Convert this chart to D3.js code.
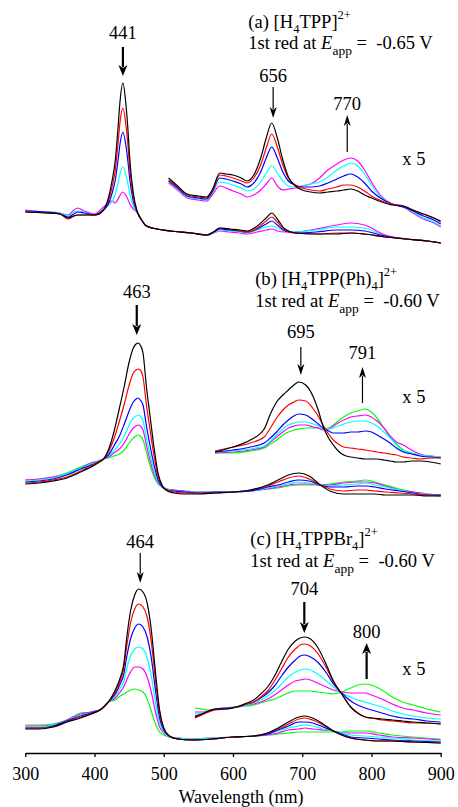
<!DOCTYPE html>
<html><head><meta charset="utf-8">
<script src="https://cdn.jsdelivr.net/npm/d3@7"></script>
<style>
body{margin:0;background:#fff}
svg{display:block}
text{font-family:"Liberation Serif","Times New Roman",Times,"Nimbus Roman","DejaVu Serif",serif;fill:#000}
</style>
</head><body><svg id="chart" width="458" height="807"></svg>
<script>
// ---------- tick labels ----------
const xTicks = [300,400,500,600,700,800,900];
const xLabel = "Wavelength (nm)";

// ---------- colours (series order: black, red, blue, cyan, magenta, green) ----------
const seriesColors = ["#000000","#ff0000","#0000ff","#00ffff","#ff00ff","#00ff00"];

// ---------- panel (a) [H4TPP]2+ : main spectra ----------
const waveA = [300,330,350,362,370,376,385,400,413,420,425,430,434,437,441,445,448,451,456,461,468,475,490,510,540,562,572,581,595,610,620,635,648,656,664,675,690,720,750,770,790,820,850,880,900];
const aBlack   = [.38,.37,.36,.32,.34,.35,.35,.35,.40,.52,.68,.90,1.23,1.50,1.67,1.48,1.23,.90,.57,.40,.30,.24,.21,.19,.17,.15,.18,.22,.21,.20,.19,.24,.32,.37,.31,.21,.17,.16,.16,.17,.16,.13,.11,.09,.07];
const aRed     = [.38,.37,.36,.31,.34,.35,.35,.35,.40,.49,.62,.80,1.07,1.29,1.42,1.27,1.07,.80,.53,.39,.30,.24,.21,.19,.17,.15,.18,.22,.21,.19,.18,.22,.29,.33,.28,.20,.17,.16,.17,.17,.16,.13,.11,.09,.07];
const aBlue    = [.39,.38,.36,.33,.36,.38,.37,.35,.40,.46,.56,.70,.90,1.07,1.18,1.06,.90,.70,.49,.39,.30,.24,.21,.19,.17,.15,.18,.21,.20,.19,.18,.21,.26,.29,.25,.19,.17,.18,.20,.20,.19,.14,.11,.09,.07];
const aCyan    = [.39,.38,.37,.34,.38,.39,.38,.35,.41,.45,.48,.56,.67,.77,.83,.76,.67,.56,.44,.38,.30,.24,.21,.19,.17,.15,.17,.20,.19,.18,.17,.20,.23,.24,.22,.19,.18,.20,.23,.23,.22,.14,.11,.09,.07];
const aMagenta = [.40,.38,.37,.35,.40,.42,.39,.36,.43,.47,.49,.47,.51,.55,.58,.55,.51,.46,.41,.38,.30,.24,.21,.19,.17,.15,.17,.19,.18,.17,.16,.18,.20,.21,.19,.18,.18,.21,.25,.27,.25,.15,.11,.09,.07];
// panel (a) x5 inset (displayed values)
const waveAInset = [507,520,534,550,562,570,581,590,600,612,620,630,640,648,656,664,672,680,690,700,712,725,737,750,760,770,780,790,800,815,830,846,860,875,890,900];
const aInBlack   = [.72,.64,.56,.54,.53,.60,.77,.76,.75,.72,.69,.75,.92,1.12,1.27,1.12,.90,.73,.64,.60,.58,.57,.58,.59,.60,.61,.59,.55,.52,.48,.45,.44,.40,.36,.32,.29];
const aInRed     = [.70,.63,.55,.53,.52,.59,.75,.74,.72,.69,.67,.72,.85,1.02,1.16,1.03,.85,.72,.65,.62,.60,.59,.61,.63,.65,.65,.63,.59,.54,.49,.46,.44,.40,.36,.32,.28];
const aInBlue    = [.69,.62,.54,.52,.51,.58,.72,.71,.69,.66,.63,.67,.78,.92,1.03,.92,.78,.69,.65,.63,.63,.64,.67,.71,.74,.76,.73,.67,.59,.51,.46,.43,.39,.34,.30,.26];
const aInCyan    = [.68,.61,.53,.51,.50,.57,.68,.67,.65,.62,.59,.61,.68,.77,.84,.77,.69,.64,.63,.64,.66,.68,.73,.80,.84,.87,.84,.76,.65,.52,.46,.43,.38,.32,.28,.24];
const aInMagenta = [.67,.60,.52,.50,.49,.55,.64,.62,.59,.56,.53,.55,.60,.66,.72,.64,.60,.61,.62,.64,.66,.72,.80,.86,.90,.92,.89,.80,.68,.53,.46,.43,.37,.31,.27,.23];

// ---------- panel (b) [H4TPP(Ph)4]2+ ----------
const waveB = [300,320,340,360,380,395,405,413,420,428,436,443,450,456,460,463,466,470,475,480,486,492,498,505,515,530,550,575,600,625,650,665,680,695,710,726,740,760,780,791,805,820,840,860,880,900];
const bBlack   = [.16,.17,.19,.22,.28,.33,.37,.41,.50,.68,.92,1.14,1.38,1.52,1.56,1.57,1.55,1.47,1.13,.85,.52,.26,.14,.09,.07,.06,.06,.07,.08,.10,.15,.20,.25,.27,.24,.15,.09,.06,.06,.06,.06,.05,.05,.05,.04,.04];
const bRed     = [.17,.18,.20,.23,.29,.34,.38,.41,.48,.61,.79,.96,1.15,1.27,1.30,1.31,1.30,1.23,.95,.71,.44,.23,.14,.10,.08,.07,.07,.07,.08,.10,.14,.18,.22,.24,.21,.15,.11,.09,.10,.10,.09,.08,.07,.06,.05,.04];
const bBlue    = [.18,.19,.21,.25,.31,.35,.38,.41,.45,.54,.64,.76,.89,.98,1.01,1.02,1.00,.95,.74,.55,.35,.20,.13,.10,.09,.08,.07,.08,.08,.09,.13,.15,.18,.20,.19,.15,.13,.13,.14,.14,.13,.11,.09,.07,.05,.05];
const bCyan    = [.19,.20,.22,.26,.32,.36,.39,.41,.44,.49,.56,.64,.75,.82,.84,.85,.84,.79,.62,.46,.29,.18,.13,.11,.09,.08,.08,.08,.08,.09,.12,.14,.16,.18,.17,.15,.14,.15,.16,.17,.15,.13,.10,.07,.06,.05];
const bMagenta = [.20,.21,.23,.26,.32,.37,.39,.41,.43,.47,.51,.57,.66,.72,.74,.75,.74,.70,.55,.40,.26,.17,.13,.11,.10,.09,.08,.08,.08,.09,.11,.13,.15,.16,.16,.15,.15,.17,.18,.18,.17,.14,.10,.08,.06,.05];
const bGreen   = [.20,.21,.23,.27,.33,.37,.39,.41,.42,.44,.46,.50,.57,.62,.64,.65,.64,.60,.48,.35,.23,.16,.13,.11,.10,.09,.08,.08,.08,.09,.11,.12,.14,.15,.15,.15,.16,.18,.19,.20,.18,.15,.11,.08,.06,.05];
const waveBInset = [574,600,625,645,654,663,672,680,688,695,705,716,723,730,738,745,752,760,770,780,791,800,808,818,827,836,846,858,870,885,900];
const bInBlack   = [.48,.53,.60,.71,.86,.98,1.05,1.10,1.15,1.18,1.15,1.03,.90,.74,.62,.55,.49,.45,.43,.42,.41,.41,.41,.40,.39,.38,.38,.39,.39,.38,.36];
const bInRed     = [.49,.53,.57,.63,.72,.82,.90,.95,.98,1.00,.99,.91,.84,.75,.66,.60,.56,.53,.52,.51,.50,.49,.48,.47,.46,.45,.43,.42,.41,.42,.42];
const bInBlue    = [.48,.50,.53,.57,.62,.68,.75,.80,.84,.86,.85,.80,.76,.72,.69,.67,.67,.67,.68,.68,.69,.68,.65,.61,.57,.52,.48,.46,.44,.43,.42];
const bInCyan    = [.48,.49,.51,.54,.59,.65,.71,.75,.77,.78,.78,.76,.74,.71,.71,.72,.74,.76,.78,.79,.79,.77,.74,.68,.62,.55,.49,.47,.45,.44,.43];
const bInMagenta = [.47,.48,.50,.53,.58,.63,.68,.72,.74,.75,.75,.73,.72,.70,.71,.74,.77,.80,.83,.84,.85,.83,.79,.72,.64,.58,.55,.50,.46,.44,.43];
const bInGreen   = [.47,.47,.49,.52,.56,.60,.65,.68,.70,.71,.72,.72,.72,.71,.72,.75,.79,.83,.87,.89,.91,.88,.82,.72,.63,.56,.50,.47,.45,.44,.43];

// ---------- panel (c) [H4TPPBr4]2+ ----------
const waveC = [300,320,340,360,380,395,410,420,430,437,442,447,452,458,464,470,476,482,488,494,500,508,520,540,570,600,630,650,665,680,695,704,715,730,745,757,770,790,810,830,860,900];
const cBlack   = [.21,.21,.23,.28,.32,.36,.41,.48,.60,.72,.85,1.15,1.39,1.55,1.61,1.58,1.47,1.20,.78,.40,.22,.14,.11,.10,.11,.13,.14,.17,.22,.28,.33,.34,.32,.26,.19,.15,.12,.10,.09,.09,.08,.07];
const cRed     = [.22,.22,.23,.28,.33,.36,.41,.48,.58,.69,.81,1.06,1.27,1.41,1.46,1.43,1.33,1.08,.70,.37,.21,.14,.11,.10,.11,.13,.14,.17,.21,.26,.31,.32,.30,.25,.19,.15,.12,.10,.09,.09,.08,.07];
const cBlue    = [.22,.22,.24,.29,.34,.37,.41,.48,.56,.66,.75,.95,1.11,1.22,1.26,1.23,1.13,.92,.60,.32,.20,.14,.11,.10,.11,.13,.14,.16,.20,.24,.28,.28,.27,.23,.19,.16,.13,.12,.11,.10,.09,.08];
const cCyan    = [.23,.23,.25,.29,.35,.37,.41,.48,.54,.62,.68,.83,.94,1.01,1.03,1.01,.92,.74,.48,.27,.18,.13,.12,.11,.12,.13,.14,.16,.19,.22,.24,.25,.24,.21,.19,.17,.15,.14,.13,.12,.10,.09];
const cMagenta = [.24,.24,.25,.30,.36,.38,.41,.48,.52,.58,.63,.71,.78,.83,.83,.81,.73,.58,.38,.23,.17,.13,.12,.11,.12,.13,.14,.15,.17,.20,.21,.22,.21,.20,.19,.17,.17,.17,.15,.13,.12,.10];
const cGreen   = [.25,.25,.26,.30,.37,.38,.41,.48,.50,.54,.56,.58,.60,.61,.60,.58,.51,.39,.26,.18,.15,.13,.12,.11,.12,.13,.14,.15,.16,.17,.18,.18,.18,.18,.18,.18,.19,.19,.17,.15,.13,.11];
const waveCInset = [545,555,565,575,590,605,620,630,640,650,660,670,680,690,697,704,712,722,735,745,757,770,780,791,800,815,830,845,860,880,900];
const cInBlack   = [.33,.36,.39,.41,.41,.43,.47,.50,.56,.63,.74,.88,1.01,1.09,1.12,1.13,1.11,1.03,.85,.69,.56,.43,.37,.33,.32,.31,.30,.29,.28,.27,.26];
const cInRed     = [.32,.35,.38,.40,.41,.43,.46,.48,.53,.59,.69,.81,.93,1.01,1.05,1.06,1.04,.97,.82,.68,.56,.43,.37,.33,.32,.30,.29,.28,.27,.27,.26];
const cInBlue    = [.34,.36,.39,.41,.42,.43,.46,.48,.52,.57,.64,.74,.83,.90,.94,.95,.93,.88,.77,.66,.57,.49,.45,.42,.40,.37,.34,.32,.31,.29,.28];
const cInCyan    = [.36,.37,.39,.41,.42,.43,.45,.47,.50,.54,.59,.66,.73,.78,.80,.81,.80,.76,.69,.63,.57,.53,.50,.48,.46,.43,.39,.36,.34,.32,.31];
const cInMagenta = [.38,.38,.39,.41,.42,.43,.45,.46,.48,.51,.55,.60,.65,.69,.70,.71,.70,.67,.63,.60,.58,.57,.57,.57,.55,.51,.46,.42,.40,.37,.35];
const cInGreen   = [.42,.41,.40,.41,.42,.43,.44,.45,.47,.49,.51,.54,.57,.59,.59,.59,.59,.58,.57,.56,.58,.62,.65,.66,.65,.60,.53,.48,.45,.41,.38];

// ---------- annotations ----------
const annPanel  = [0,0,0,1,1,1,2,2,2];
const annLabels = ["441","656","770","463","695","791","464","704","800"];
const annNm     = [441,658,765,461,698,787,466,703,793];
const annLabelY = [2.11,1.68,1.40,2.02,1.62,1.41,2.02,1.55,1.12];
const annTail   = [2.03,1.63,0.98,1.95,1.53,0.97,1.97,1.48,0.71];
const annTip    = [1.74,1.32,1.35,1.65,1.25,1.33,1.67,1.17,1.07];
const annThick  = [true,false,false,true,false,false,false,true,true];

const titleLetters = ["a","b","c"];
const titleFormula = [["[H","4","TPP]"],["[H","4","TPP(Ph)","4","]"],["[H","4","TPPBr","4","]"]];
const potentials = ["-0.65","-0.60","-0.60"];

// ---------- drawing ----------
const FONT = '"Liberation Serif","Times New Roman",Times,"Nimbus Roman","DejaVu Serif",serif';
const svg = d3.select("#chart");
const x = d3.scaleLinear().domain([300,900]).range([25.3,440.7]);
const panelBase = [250,500,750];
const panelTitleNm = [622,632,625];
const panelTitleY = [[2.22,2.01],[2.15,1.93],[2.05,1.83]];
const x5Y = [0.85,0.97,0.75];

const mainSets = [
  {wave:waveA, s:[aBlack,aRed,aBlue,aCyan,aMagenta]},
  {wave:waveB, s:[bBlack,bRed,bBlue,bCyan,bMagenta,bGreen]},
  {wave:waveC, s:[cBlack,cRed,cBlue,cCyan,cMagenta,cGreen]}
];
const insetSets = [
  {wave:waveAInset, s:[aInBlack,aInRed,aInBlue,aInCyan,aInMagenta]},
  {wave:waveBInset, s:[bInBlack,bInRed,bInBlue,bInCyan,bInMagenta,bInGreen]},
  {wave:waveCInset, s:[cInBlack,cInRed,cInBlue,cInCyan,cInMagenta,cInGreen]}
];

function drawSet(g, y, set){
  const line = d3.line().x(d=>x(d[0])).y(d=>y(d[1])).curve(d3.curveMonotoneX);
  for(let i=set.s.length-1;i>=0;i--){
    const pts = set.wave.map((w,j)=>[w,set.s[i][j]]);
    g.append("path").attr("d",line(pts)).attr("fill","none")
      .attr("stroke",seriesColors[i]).attr("stroke-width",1.2)
      .attr("stroke-linejoin","round");
  }
}

function rich(g, xp, yp, parts, size){
  const t = g.append("text").attr("x",xp).attr("y",yp).attr("font-size",size)
    .attr("font-family",FONT).style("white-space","pre");
  parts.forEach(p=>{
    const s = t.append("tspan").text(p.t);
    if(p.size) s.attr("font-size",p.size);
    if(p.dy) s.attr("dy",p.dy);
    if(p.it) s.attr("font-style","italic");
  });
  return t;
}

panelBase.forEach((base,pi)=>{
  const y = d3.scaleLinear().domain([0,1]).range([base, base-100]);
  const g = svg.append("g");
  drawSet(g, y, mainSets[pi]);
  drawSet(g, y, insetSets[pi]);

  const f = titleFormula[pi];
  const parts = [{t:"("+titleLetters[pi]+") "+f[0]}];
  let low = false;
  for(let k=1;k<f.length;k++){
    if(k%2===1){ parts.push({t:f[k],size:12.5,dy:5}); low=true; }
    else { parts.push({t:f[k],dy:-5}); low=false; }
  }
  parts.push({t:"2+",size:12.5,dy: low? -14 : -9});
  rich(g, x(panelTitleNm[pi]), y(panelTitleY[pi][0]), parts, 18.6);
  rich(g, x(panelTitleNm[pi]), y(panelTitleY[pi][1]), [
    {t:"1st red at "},{t:"E",it:true},{t:"app",size:13.5,dy:6},{t:" =  "+potentials[pi]+" V",dy:-6}
  ], 18.6);
  g.append("text").attr("x",x(844.5)).attr("y",y(x5Y[pi])).attr("font-size",18.5)
    .attr("font-family",FONT).style("white-space","pre").text("x 5");

  annPanel.forEach((p,k)=>{
    if(p!==pi) return;
    const ax = x(annNm[k]);
    const tail = y(annTail[k]), tip = y(annTip[k]);
    const dir = tip>tail ? 1 : -1;
    const hw = annThick[k] ? 4.5 : 3.5, hl = 11;
    g.append("line").attr("x1",ax).attr("x2",ax).attr("y1",tail).attr("y2",tip - dir*(hl-2))
      .attr("stroke","#000").attr("stroke-width",annThick[k]?2.2:1.2);
    g.append("path").attr("d",`M${ax},${tip}L${ax-hw},${tip-dir*hl}L${ax},${tip-dir*(hl-3)}L${ax+hw},${tip-dir*hl}Z`)
      .attr("fill","#000");
    g.append("text").attr("x",ax).attr("y",y(annLabelY[k])).attr("text-anchor","middle")
      .attr("font-size",18.5).attr("font-family",FONT).text(annLabels[k]);
  });
});

const axis = d3.axisBottom(x).tickValues(xTicks).tickSize(4).tickSizeOuter(0).tickPadding(10).tickFormat(d3.format("d"));
const ag = svg.append("g").attr("transform","translate(0,753)").call(axis);
ag.attr("font-size",18).attr("font-family",FONT);
ag.selectAll("text").attr("font-family",FONT);
ag.selectAll("path,line").attr("stroke","#000").attr("stroke-width",1.3);
svg.append("text").attr("x",241).attr("y",803).attr("text-anchor","middle").attr("font-size",18)
  .attr("font-family",FONT).text(xLabel);
</script>
</body></html>
